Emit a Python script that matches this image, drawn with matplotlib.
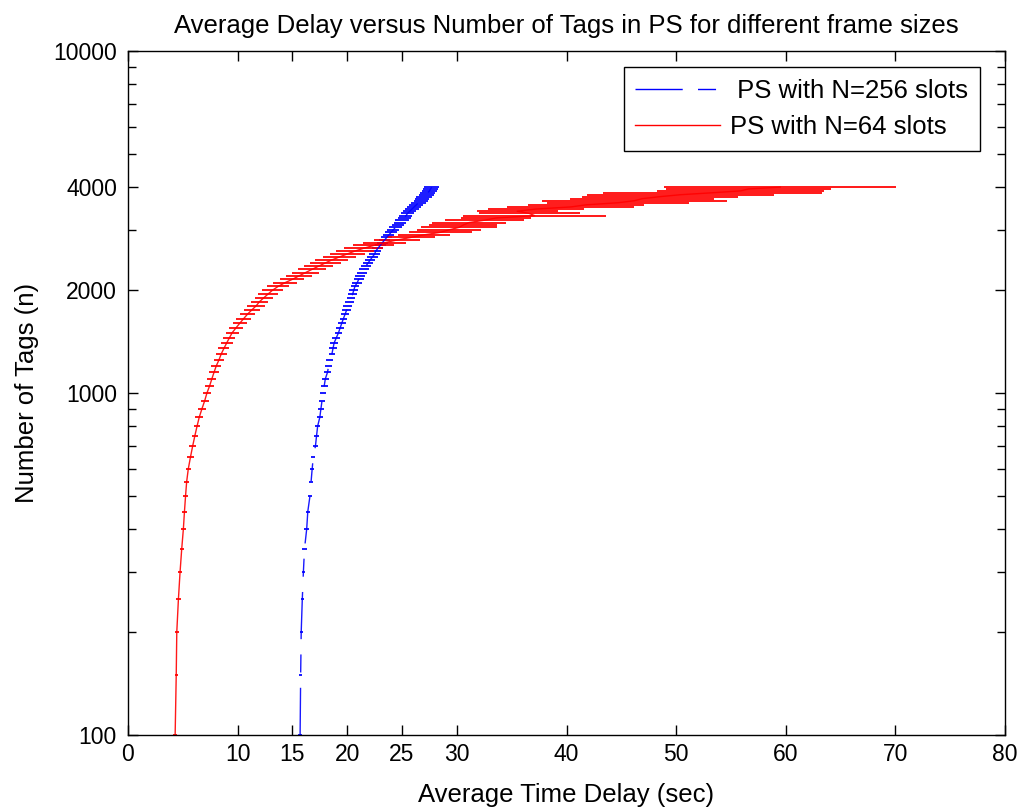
import matplotlib
matplotlib.use("Agg")
import matplotlib.pyplot as plt
from matplotlib.lines import Line2D
from matplotlib.ticker import FixedLocator, LogLocator, NullFormatter, FixedFormatter

plt.rcParams['font.family'] = ['Liberation Sans', 'DejaVu Sans']

# Number of tags (y values)
tags = [100, 150, 200, 250, 300, 350, 400, 450, 500, 550, 600, 650, 700, 750, 800, 850,
        900, 950, 1000, 1050, 1100, 1150, 1200, 1250, 1300, 1350, 1400, 1450, 1500, 1550,
        1600, 1650, 1700, 1750, 1800, 1850, 1900, 1950, 2000, 2050, 2100, 2150, 2200, 2250,
        2300, 2350, 2400, 2450, 2500, 2550, 2600, 2650, 2700, 2750, 2800, 2850, 2900, 2950,
        3000, 3050, 3100, 3150, 3200, 3250, 3300, 3350, 3400, 3450, 3500, 3550, 3600, 3650,
        3700, 3750, 3800, 3850, 3900, 3950, 4000]

# PS with N=256 slots: mean delay (sec) and half-width of error bar
delay_256 = [15.7, 15.75, 15.8, 15.9, 16.0, 16.1, 16.3, 16.4, 16.6, 16.7, 16.8, 16.9, 17.1, 17.2,
             17.3, 17.5, 17.6, 17.7, 17.8, 17.9, 18.0, 18.2, 18.3, 18.4, 18.6, 18.7, 18.8, 19.0,
             19.2, 19.35, 19.5, 19.65, 19.8, 19.95, 20.05, 20.2, 20.35, 20.5, 20.6, 20.7, 20.9,
             21.05, 21.2, 21.35, 21.5, 21.7, 21.9, 22.1, 22.3, 22.5, 22.6, 22.8, 23.0, 23.2, 23.4,
             23.6, 23.8, 24.0, 24.2, 24.4, 24.6, 24.8, 25.0, 25.2, 25.35, 25.5, 25.7, 25.9, 26.1,
             26.3, 26.5, 26.7, 26.85, 27.0, 27.2, 27.35, 27.5, 27.6, 27.7]
err_256 = [0.15, 0.15, 0.15, 0.15, 0.15, 0.2, 0.2, 0.2, 0.2, 0.2, 0.2, 0.2, 0.25, 0.25, 0.25,
           0.25, 0.25, 0.25, 0.3, 0.3, 0.3, 0.3, 0.3, 0.3, 0.3, 0.35, 0.35, 0.35, 0.35, 0.35,
           0.35, 0.35, 0.4, 0.4, 0.4, 0.4, 0.4, 0.4, 0.4, 0.4, 0.45, 0.45, 0.45, 0.45, 0.45,
           0.45, 0.45, 0.45, 0.5, 0.5, 0.5, 0.5, 0.5, 0.5, 0.5, 0.5, 0.5, 0.55, 0.55, 0.55,
           0.55, 0.55, 0.6, 0.6, 0.6, 0.6, 0.6, 0.6, 0.65, 0.65, 0.65, 0.65, 0.65, 0.7, 0.7,
           0.7, 0.7, 0.7, 0.7]

# PS with N=64 slots: mean delay (sec) and half-width of error bar
delay_64 = [4.3, 4.4, 4.45, 4.6, 4.75, 4.9, 5.05, 5.15, 5.25, 5.35, 5.5, 5.7, 5.9, 6.1, 6.3,
            6.5, 6.75, 7.0, 7.2, 7.45, 7.65, 7.85, 8.05, 8.3, 8.5, 8.75, 9.0, 9.25, 9.5, 9.85,
            10.2, 10.55, 10.9, 11.3, 11.7, 12.0, 12.4, 12.8, 13.2, 13.7, 14.3, 15.0, 15.6, 16.2,
            16.8, 17.4, 18.0, 18.6, 19.3, 20.0, 20.7, 21.5, 22.4, 23.4, 24.5, 25.8, 27.0, 28.5,
            29.3, 30.2, 30.6, 31.1, 32.5, 33.6, 37.1, 36.6, 35.5, 37.2, 40.4, 41.8, 44.7, 46.2,
            46.9, 48.5, 50.4, 53.3, 55.9, 56.6, 59.5]
err_64 = [0.15, 0.15, 0.2, 0.2, 0.2, 0.2, 0.2, 0.25, 0.25, 0.25, 0.25, 0.3, 0.3, 0.3, 0.3,
          0.35, 0.35, 0.35, 0.4, 0.4, 0.4, 0.45, 0.45, 0.5, 0.5, 0.5, 0.55, 0.55, 0.6, 0.6,
          0.65, 0.7, 0.7, 0.75, 0.8, 0.8, 0.85, 0.9, 0.95, 1.0, 1.1, 1.1, 1.2, 1.2, 1.3, 1.3,
          1.4, 1.5, 1.5, 1.6, 1.7, 1.8, 1.9, 2.0, 2.1, 2.2, 2.4, 2.9, 2.9, 3.5, 3.1, 3.4, 3.6,
          3.2, 6.5, 4.6, 3.7, 4.4, 5.8, 5.3, 6.5, 8.4, 6.6, 7.1, 8.5, 10.0, 7.6, 7.5, 10.6]

x_ticks = [0, 10, 15, 20, 25, 30, 40, 50, 60, 70, 80]
y_ticks = [100, 1000, 2000, 4000, 10000]
y_tick_labels = ['100', '1000', '2000', '4000', '10000']
labels = [' PS with N=256 slots', 'PS with N=64 slots']
colors = ['#0000ff', '#ff0000']

W, H = 1019, 808
fig = plt.figure(figsize=(W / 100, H / 100), dpi=100)
ax = fig.add_axes([128 / W, 1 - 735 / H, (1005 - 128) / W, (735 - 51) / H])

dash = (34, 11, 13, 11)

# N=256 (blue, dashed)
ax.errorbar(delay_256, tags, xerr=err_256, color=colors[0], ecolor=colors[0],
            elinewidth=1.4, capsize=0, lw=1.0, alpha=0.9, dashes=dash)
# N=64 (red, solid)
ax.errorbar(delay_64, tags, xerr=err_64, color=colors[1], ecolor=colors[1],
            elinewidth=1.4, capsize=0, lw=1.0, alpha=0.9)

ax.set_yscale('log')
ax.set_xlim(0, 80)
ax.set_ylim(100, 10000)
ax.xaxis.set_major_locator(FixedLocator(x_ticks))
ax.yaxis.set_major_locator(FixedLocator(y_ticks))
ax.yaxis.set_major_formatter(FixedFormatter(y_tick_labels))
ax.yaxis.set_minor_locator(LogLocator(base=10, subs=[2, 3, 4, 5, 6, 7, 8, 9]))
ax.yaxis.set_minor_formatter(NullFormatter())

ax.tick_params(axis='both', which='both', direction='in', top=True, right=True,
               width=1.0, labelsize=16.5)
ax.tick_params(axis='both', which='major', length=7.5)
ax.tick_params(axis='y', which='minor', length=6)
ax.tick_params(axis='y', which='major', pad=8)
ax.tick_params(axis='x', which='major', pad=6)
for s in ax.spines.values():
    s.set_linewidth(1.0)

ax.set_xlabel('Average Time Delay (sec)', fontsize=18.5, labelpad=12)
ax.set_ylabel('Number of Tags (n)', fontsize=18.5, labelpad=10)
ax.set_title('Average Delay versus Number of Tags in PS for different frame sizes',
             fontsize=18.5, pad=13)

handles = [Line2D([], [], color=colors[0], lw=1.0, dashes=(34, 11, 13, 60)),
           Line2D([], [], color=colors[1], lw=1.0)]
leg = ax.legend(handles, labels, loc='upper right', bbox_to_anchor=(980 / W, 1 - 67 / H),
                bbox_transform=fig.transFigure, borderaxespad=0, fontsize=18.5,
                fancybox=False, framealpha=1, edgecolor='black', handlelength=3.3,
                handletextpad=0.4, borderpad=0.45, labelspacing=0.5)
leg.get_frame().set_linewidth(1.0)

fig.savefig('out.png', dpi=100)
